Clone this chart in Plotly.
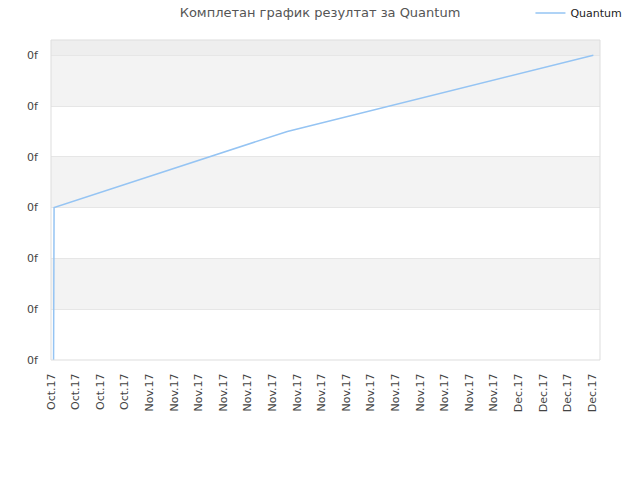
import plotly.graph_objects as go

# data
dates = ["2017-10-24 05:00", "2017-10-24 06:00", "2017-11-12 05:00", "2017-12-07 02:00"]
values = [0, 3, 4.5, 6]

tick_dates = ["2017-10-24", "2017-10-26", "2017-10-28", "2017-10-30",
              "2017-11-01", "2017-11-03", "2017-11-05", "2017-11-07", "2017-11-09",
              "2017-11-11", "2017-11-13", "2017-11-15", "2017-11-17", "2017-11-19",
              "2017-11-21", "2017-11-23", "2017-11-25", "2017-11-27", "2017-11-29",
              "2017-12-01", "2017-12-03", "2017-12-05", "2017-12-07"]
y_ticks = [0, 1, 2, 3, 4, 5, 6]
y_labels = ["0f"] * len(y_ticks)

x_range = ["2017-10-24 00:00", "2017-12-07 15:00"]
y_top = 6.3

fig = go.Figure()
fig.add_trace(go.Scatter(x=dates, y=values, mode="lines", name="Quantum",
                         line=dict(color="#95c4f3", width=1.5)))

# alternating bands (Highcharts style)
shapes = []
for i in range(len(y_ticks) - 1):
    if i % 2 == 1:
        shapes.append(dict(type="rect", xref="paper", yref="y", x0=0, x1=1,
                           y0=y_ticks[i], y1=y_ticks[i + 1],
                           fillcolor="#f3f3f3", line_width=0, layer="below"))
shapes.append(dict(type="rect", xref="paper", yref="y", x0=0, x1=1,
                   y0=y_ticks[-1], y1=y_top,
                   fillcolor="#eeeeee", line_width=0, layer="below"))
shapes.append(dict(type="rect", xref="paper", yref="paper", x0=0, x1=1, y0=0, y1=1,
                   line=dict(color="#dddddd", width=1), layer="above"))

fig.update_layout(
    width=640, height=480,
    margin=dict(l=51, r=40, t=40, b=120, autoexpand=False),
    paper_bgcolor="white", plot_bgcolor="white",
    font=dict(family="DejaVu Sans", size=11, color="#444444"),
    title=dict(text="Комплетан график резултат за Quantum", x=0.5, xanchor="center",
               y=0.975, yanchor="middle", font=dict(size=13, color="#555555")),
    showlegend=True,
    legend=dict(x=1.05, y=1.084, xanchor="right", yanchor="middle", itemwidth=30,
                bgcolor="rgba(0,0,0,0)", font=dict(size=11, color="#222222")),
    shapes=shapes,
)
fig.update_xaxes(range=x_range, tickvals=tick_dates, tickformat="%b.%y", tickangle=-90,
                 showgrid=False, zeroline=False, showline=False, automargin=False,
                 ticks="outside", ticklen=8, tickcolor="rgba(0,0,0,0)")
fig.update_yaxes(range=[0, y_top], tickvals=y_ticks, ticktext=y_labels,
                 showgrid=True, gridcolor="#e6e6e6", zeroline=False, showline=False,
                 automargin=False, ticks="outside", ticklen=10, tickcolor="rgba(0,0,0,0)")

# drop the default 8px page margin so the figure sits at the window corner
fig.write_html("out.html", config={"displayModeBar": False},
               post_script="document.body.style.margin='0px';")
